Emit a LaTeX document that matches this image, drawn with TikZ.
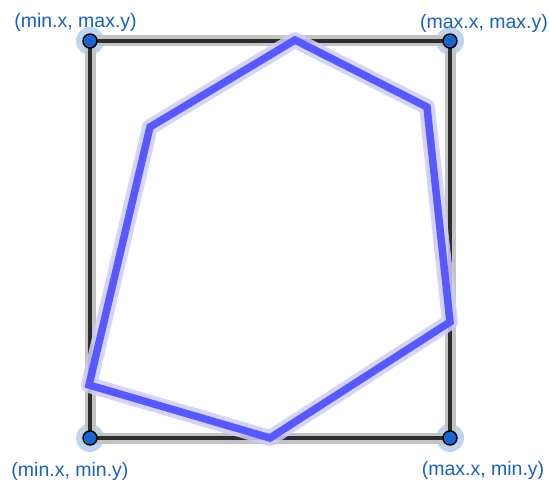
\documentclass[tikz,border=0pt]{standalone}
\usepackage{fontspec}
\setmainfont{Liberation Sans}
\definecolor{lbl}{RGB}{24,98,190}
\definecolor{dotc}{RGB}{26,102,204}
\definecolor{polyc}{RGB}{88,88,255}
\definecolor{polyhalo}{RGB}{205,205,255}
\definecolor{boxc}{RGB}{45,45,45}
\definecolor{boxhaloc}{RGB}{195,195,195}
\begin{document}
\begin{tikzpicture}[x=1pt,y=-1pt,
  corner/.style={circle,draw=black,line width=1.4pt,fill=dotc,inner sep=0pt,minimum size=14pt},
  cornerhalo/.style={circle,fill=dotc,fill opacity=0.28,inner sep=0pt,minimum size=28pt},
  lab/.style={text=lbl,font=\fontsize{19.5}{23}\selectfont,inner sep=0pt},
  boxhalo/.style={line width=11pt,draw=boxhaloc},
  boxline/.style={line width=4.5pt,draw=boxc},
  polyhalo/.style={line width=16pt,draw=polyhalo,draw opacity=0.85,line join=round},
  polyline/.style={line width=7.5pt,draw=polyc,line join=miter}]
\useasboundingbox (0,0) rectangle (549,484);
% polygon vertices
\coordinate (p1) at (295,40);
\coordinate (p2) at (427,107);
\coordinate (p3) at (450,322);
\coordinate (p4) at (270,438);
\coordinate (p5) at (89,385);
\coordinate (p6) at (150,127);
% corner halos
\node[cornerhalo] (htl) at (90,41) {};
\node[cornerhalo] (htr) at (450,41) {};
\node[cornerhalo] (hbl) at (90,438) {};
\node[cornerhalo] (hbr) at (450,438) {};
% bounding box
\draw[boxhalo] (htl.center) -- (htr.center) -- (hbr.center) -- (hbl.center) -- cycle;
\draw[boxline] (htl.center) -- (htr.center) -- (hbr.center) -- (hbl.center) -- cycle;
% polygon
\draw[polyhalo] (p1) -- (p2) -- (p3) -- (p4) -- (p5) -- (p6) -- cycle;
\draw[polyline] (p1) -- (p2) -- (p3) -- (p4) -- (p5) -- (p6) -- cycle;
% corner dots
\node[corner] (tl) at (90,41) {};
\node[corner] (tr) at (450,41) {};
\node[corner] (bl) at (90,438) {};
\node[corner] (br) at (450,438) {};
% labels
\node[lab] (ltl) at (75.5,22) {(min.x, max.y)};
\node[lab] (ltr) at (484,23) {(max.x, max.y)};
\node[lab] (lbl) at (70,471) {(min.x, min.y)};
\node[lab] (lbr) at (483,470) {(max.x, min.y)};
\end{tikzpicture}
\end{document}
